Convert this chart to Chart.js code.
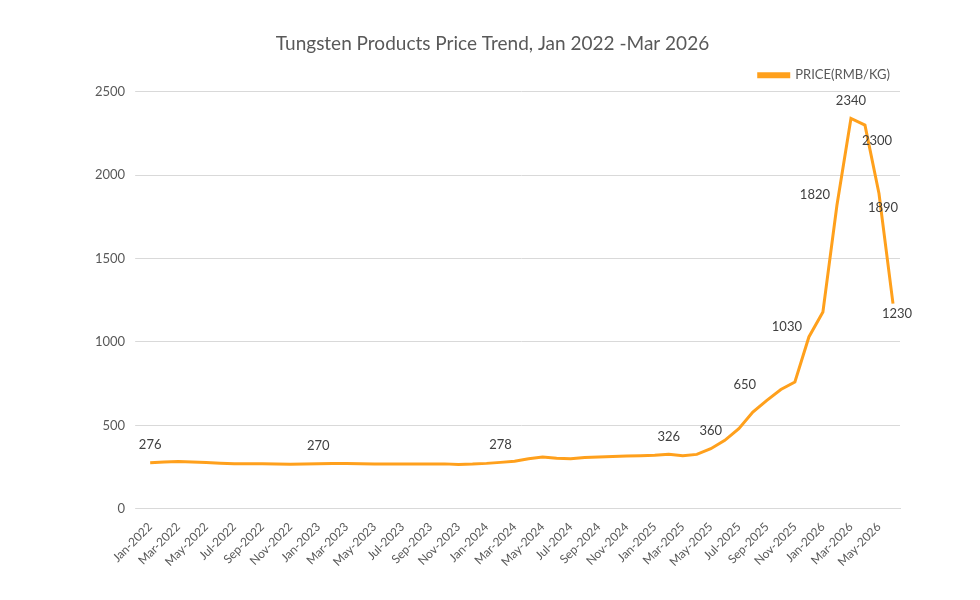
<!DOCTYPE html>
<html><head><meta charset="utf-8">
<script src="https://cdn.jsdelivr.net/npm/chart.js@4/dist/chart.umd.min.js"></script>
<style>html,body{margin:0;background:#fff}#wrap{width:980px;height:600px}</style>
</head><body><div id="wrap"><canvas id="c"></canvas></div>
<script>
const months = ['Jan','Feb','Mar','Apr','May','Jun','Jul','Aug','Sep','Oct','Nov','Dec'];
const years = [2022, 2023, 2024, 2025, 2026];
const labels = [];
years.forEach(y => months.forEach((m, i) => { if (y < 2026 || i < 6) labels.push(m + '-' + y); }));

const prices = [
  276, 280, 283, 280, 277, 273, 270, 270, 270, 268, 267, 268,
  270, 272, 272, 270, 269, 269, 269, 269, 269, 269, 266, 268,
  272, 278, 285, 300, 310, 303, 300, 307, 310, 313, 316, 318,
  320, 326, 318, 326, 360, 410, 480, 580, 650, 715, 760, 1030,
  1180, 1820, 2340, 2300, 1890, 1230
];

// which points carry a value label, and where it sits
const shownLabels = {0:'above', 12:'above', 25:'above', 37:'above', 40:'above',
  44:'aboveleft', 47:'left', 49:'left', 50:'above', 51:'belowright', 52:'belowright2', 53:'below'};

const valueLabels = {
  id: 'valueLabels',
  afterDatasetsDraw(chart) {
    const ctx = chart.ctx;
    const meta = chart.getDatasetMeta(0);
    ctx.save();
    ctx.font = '13px Lato';
    ctx.fillStyle = '#404040';
    ctx.textAlign = 'center';
    ctx.textBaseline = 'middle';
    Object.keys(shownLabels).forEach(k => {
      const p = meta.data[k];
      let x = p.x, y = p.y;
      switch (shownLabels[k]) {
        case 'above': y -= 18; break;
        case 'aboveleft': x -= 22; y -= 16; break;
        case 'left': x -= 22; y -= 10; break;
        case 'belowright': x += 12; y += 16; break;
        case 'belowright2': x += 4; y += 14; break;
        case 'below': y += 10; x += 4; break;
      }
      ctx.fillText(String(prices[k]), x, y);
    });
    ctx.restore();
  }
};

new Chart(document.getElementById('c'), {
  type: 'line',
  data: {
    labels: labels,
    datasets: [{
      label: 'PRICE(RMB/KG)',
      data: prices,
      borderColor: '#FFA01C',
      backgroundColor: '#FFA01C',
      borderWidth: 3,
      pointRadius: 0,
      tension: 0
    }]
  },
  options: {
    responsive: true,
    maintainAspectRatio: false,
    animation: false,
    layout: { padding: { left: 85, right: 80, top: 0, bottom: 28 } },
    scales: {
      x: {
        offset: true,
        grid: { display: false },
        border: { color: '#d9d9d9' },
        ticks: {
          autoSkip: false,
          maxRotation: 45, minRotation: 45,
          color: '#595959', font: { family: 'Lato', size: 12 },
          callback: (v, i) => i % 2 === 0 ? labels[i] : ''
        }
      },
      y: {
        min: 0, max: 2500,
        ticks: { stepSize: 500, color: '#595959', font: { family: 'Lato', size: 13 }, padding: 10,
          callback: v => String(v) },
        grid: { color: '#d9d9d9' },
        border: { display: false }
      }
    },
    plugins: {
      title: {
        display: true,
        text: 'Tungsten Products Price Trend, Jan 2022 -Mar 2026',
        color: '#595959',
        font: { family: 'Lato', size: 19, weight: 'normal' },
        padding: { top: 32, bottom: 4 }
      },
      legend: {
        align: 'end',
        labels: { boxWidth: 30, boxHeight: 3, color: '#595959', font: { family: 'Lato', size: 13 } }
      }
    }
  },
  plugins: [valueLabels]
});
</script>
</body></html>
